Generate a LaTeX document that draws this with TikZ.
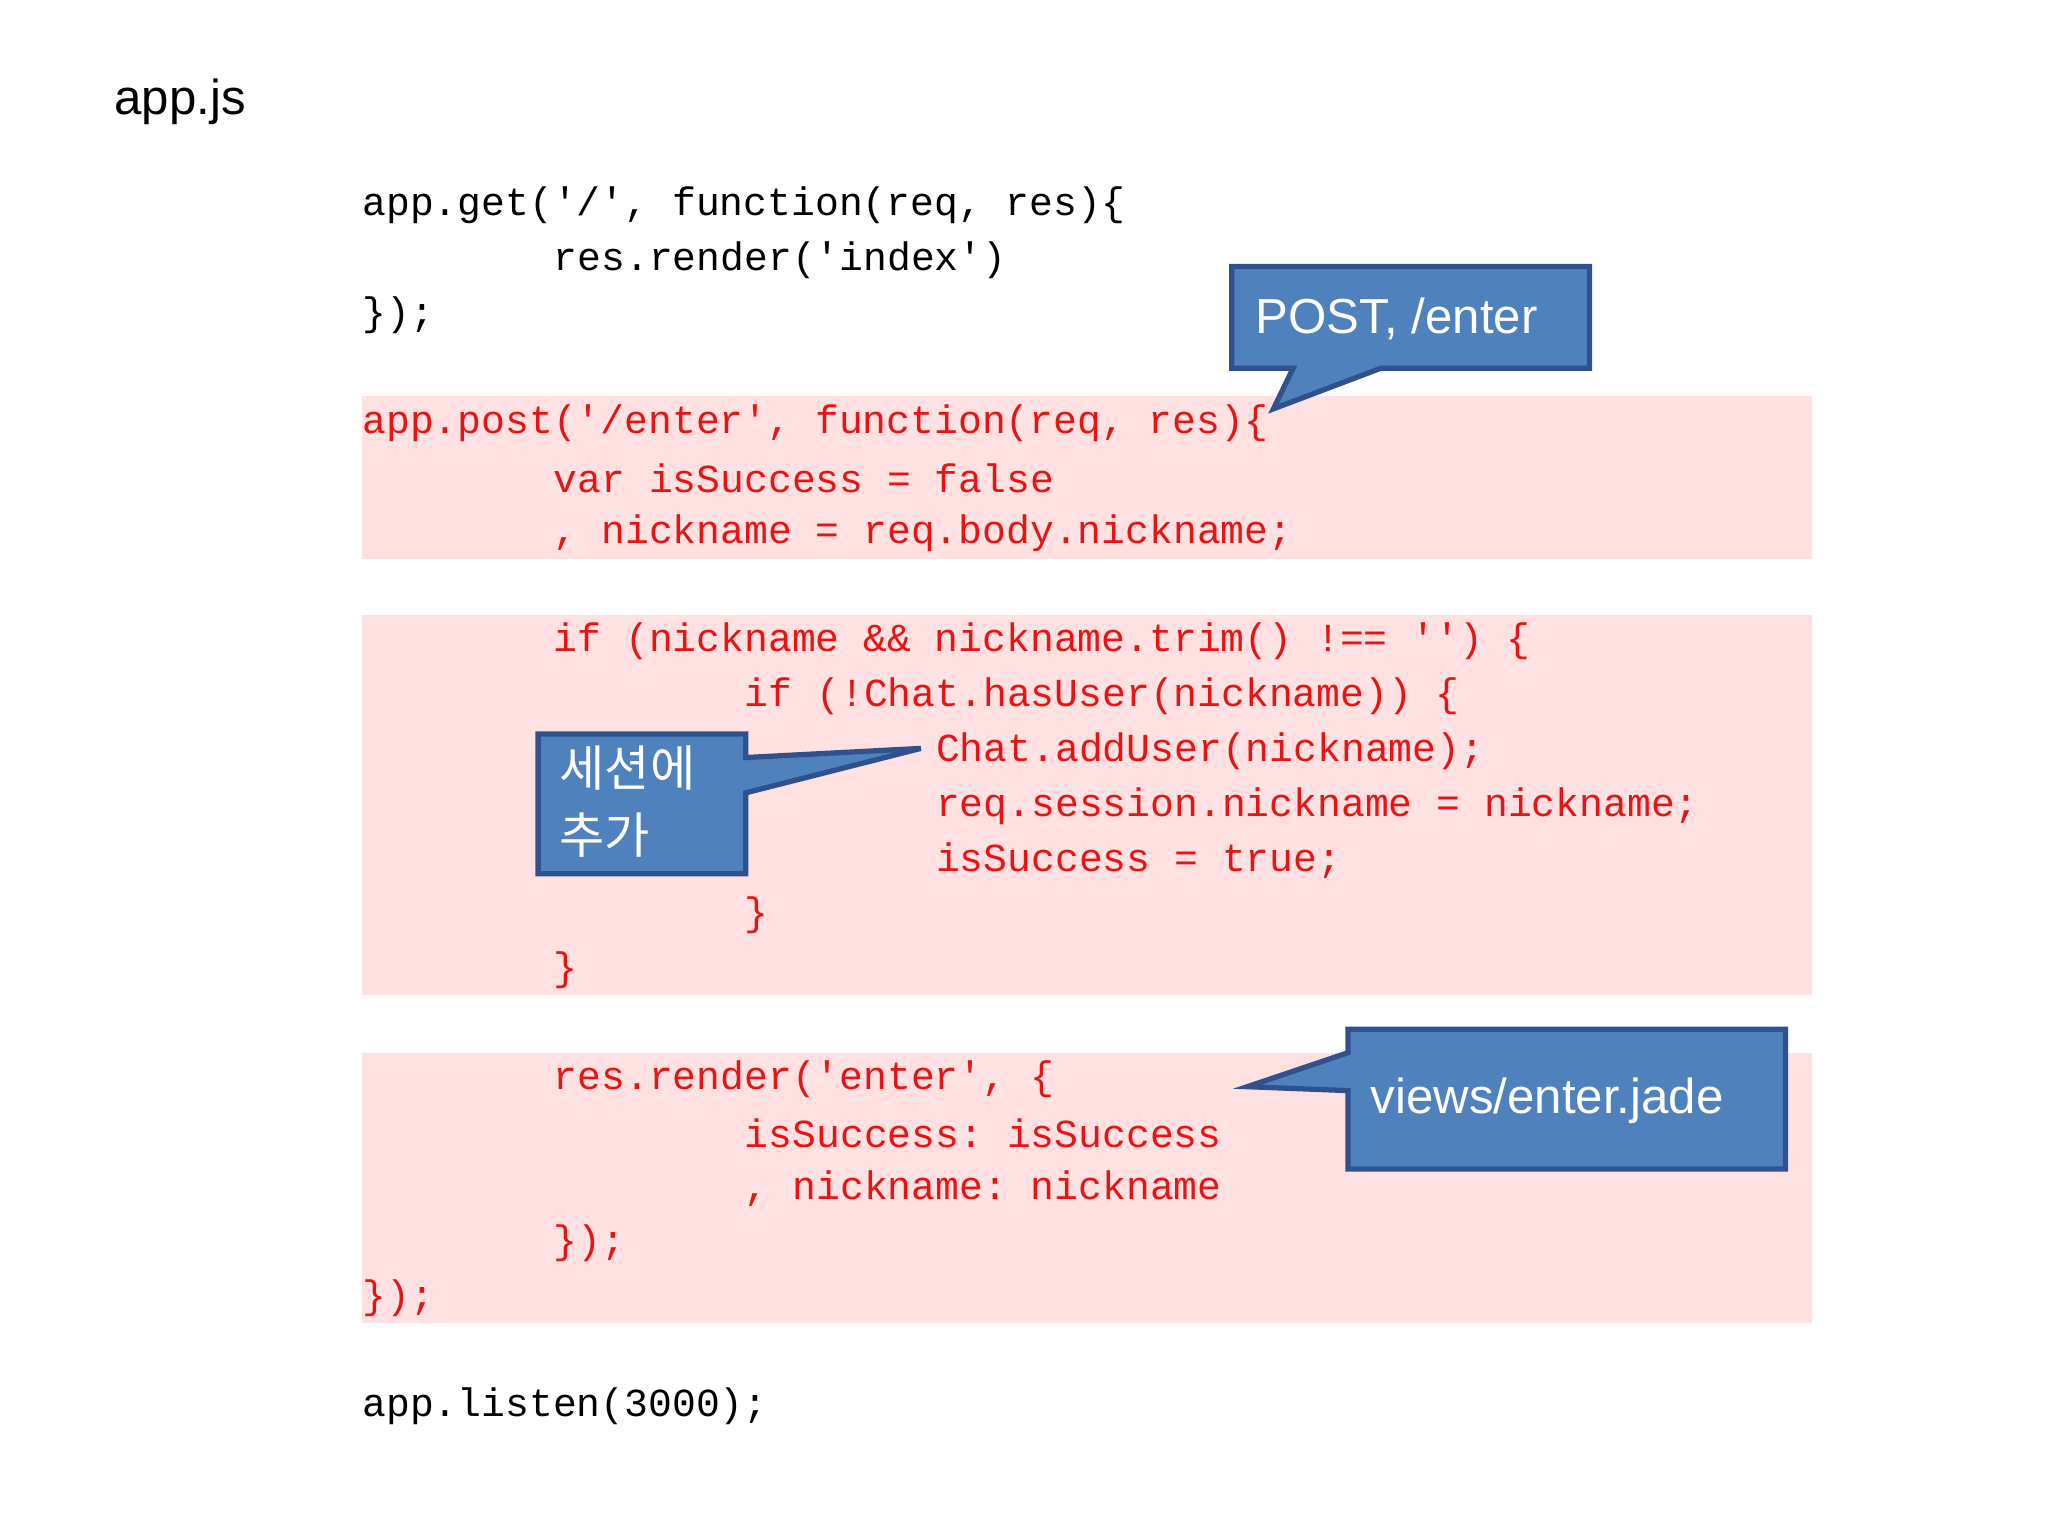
\documentclass[tikz,border=0pt]{standalone}
\usepackage{fontspec}
\setmainfont{Liberation Sans}
\setmonofont{Liberation Mono}
\newfontfamily\kr{Noto Sans CJK KR}
\definecolor{band}{RGB}{255,225,225}
\definecolor{cblue}{RGB}{79,129,189}
\definecolor{cedge}{RGB}{47,82,143}
\definecolor{cred}{RGB}{230,20,20}
\begin{document}
\begin{tikzpicture}[x=0.01306cm,y=-0.01306cm,
  code/.style={anchor=west,inner sep=0pt,font=\fontsize{11.3}{13}\ttfamily},
  rc/.style={code,text=cred},
  call/.style={fill=cblue,draw=cedge,line width=1.5pt},
  ctext/.style={text=white,font=\fontsize{14}{17}\selectfont,inner sep=0pt,anchor=west}]
\useasboundingbox (0,0) rectangle (1568,1176);
\fill[band] (277,303) rectangle (1387,428);
\fill[band] (277,471) rectangle (1387,762);
\fill[band] (277,806) rectangle (1387,1013);
\node[anchor=west,inner sep=0pt,font=\fontsize{14}{17}\selectfont] (title) at (87,78) {app.js};
\def\cx#1{277+#1*18.3}
\node[code] (l1) at (\cx{0},157) {app.get('/', function(req, res)\{};
\node[code] (l2) at (\cx{8},199) {res.render('index')};
\node[code] (l3) at (\cx{0},241) {\});};
\node[rc] (l4) at (\cx{0},324) {app.post('/enter', function(req, res)\{};
\node[rc] (l5) at (\cx{8},366) {var isSuccess = false};
\node[rc] (l6) at (\cx{8},408) {, nickname = req.body.nickname;};
\node[rc] (l7) at (\cx{8},491) {if (nickname \&\& nickname.trim() !== '') \{};
\node[rc] (l8) at (\cx{16},533) {if (!Chat.hasUser(nickname)) \{};
\node[rc] (l9) at (\cx{24},575) {Chat.addUser(nickname);};
\node[rc] (l10) at (\cx{24},617) {req.session.nickname = nickname;};
\node[rc] (l11) at (\cx{24},659) {isSuccess = true;};
\node[rc] (l12) at (\cx{16},701) {\}};
\node[rc] (l13) at (\cx{8},743) {\}};
\node[rc] (l14) at (\cx{8},826) {res.render('enter', \{};
\node[rc] (l15) at (\cx{16},868) {isSuccess: isSuccess};
\node[rc] (l16) at (\cx{16},910) {, nickname: nickname};
\node[rc] (l17) at (\cx{8},952) {\});};
\node[rc] (l18) at (\cx{0},994) {\});};
\node[code] (l19) at (\cx{0},1077) {app.listen(3000);};
\draw[call] (943,204)--(1217,204)--(1217,282)--(1057,282)--(975,313)--(990,282)--(943,282)--cycle;
\node[ctext] (c1) at (961,244) {POST, /enter};
\draw[call] (412,562)--(571,562)--(571,580)--(705,573)--(571,607)--(571,669)--(412,669)--cycle;
\node[ctext,font=\kr\fontsize{14}{19}\selectfont,align=left] (c2) at (428,614) {세션에\\추가};
\draw[call] (1032,788)--(1367,788)--(1367,895)--(1032,895)--(1032,835)--(955,832)--(1032,806)--cycle;
\node[ctext] (c3) at (1049,843) {views/enter.jade};
\end{tikzpicture}
\end{document}
